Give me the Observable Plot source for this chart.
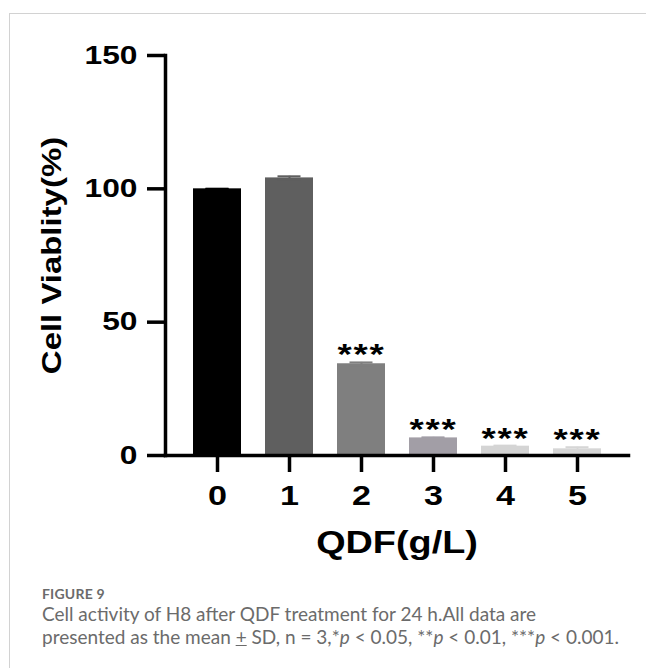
<!DOCTYPE html>
<html>
<head>
<meta charset="utf-8">
<script src="https://cdn.jsdelivr.net/npm/d3@7"></script>
<script src="https://cdn.jsdelivr.net/npm/@observablehq/plot@0.6"></script>
<style>
  html, body { margin: 0; padding: 0; background: #fff; }
  #wrap { position: relative; width: 646px; height: 668px; overflow: hidden; background: #fff; }
  #border { position: absolute; left: 9px; top: 13px; right: -2px; bottom: -2px;
            border-left: 1px solid #d2d2d2; border-top: 1px solid #d2d2d2; }
  #chart { position: absolute; left: 0; top: 0; }
  .figno { position: absolute; left: 42px; top: 587px; font-family: Lato, "Open Sans", sans-serif;
           font-size: 14px; line-height: 14px; font-weight: 700; color: #6b6b6b; letter-spacing: 0.2px; }
  .figtxt { position: absolute; left: 42px; top: 602px; font-family: Lato, "Open Sans", sans-serif;
            font-size: 19px; line-height: 23px; color: #6b6b6b; white-space: nowrap; }
</style>
</head>
<body>
<div id="wrap">
  <div id="border"></div>
  <div id="chart"></div>
  <div class="figno">FIGURE 9</div>
  <div class="figtxt">Cell activity of H8 after QDF treatment for 24 h.All data are<br>presented as the mean <u>+</u> SD, n = 3,*<i>p</i> &lt; 0.05, **<i>p</i> &lt; 0.01, ***<i>p</i> &lt; 0.001.</div>
</div>
<script>
// Data
const doses = ["0", "1", "2", "3", "4", "5"];
const viability = [100, 104.1, 34.4, 6.6, 3.5, 2.5];
const sdValues = [0, 0.6, 0.5, 0.2, 0.2, 0.6];
const significance = ["", "", "***", "***", "***", "***"];
const yTicks = [0, 50, 100, 150];
const barColors = ["#000000", "#5f5f5f", "#7f7f7f", "#a29ea6", "#d4d4d4", "#d6d6d6"];

const data = doses.map((d, i) => ({
  dose: d,
  v: viability[i],
  lo: viability[i] - sdValues[i],
  hi: viability[i] + sdValues[i],
  sig: significance[i]
}));

const font = '"Liberation Sans", Arial, Helvetica, sans-serif';

const chart = Plot.plot({
  width: 646,
  height: 575,
  marginLeft: 165,
  marginRight: 18,
  marginTop: 55,
  marginBottom: 120,
  style: { fontFamily: font, color: "#000", background: "transparent" },
  x: { domain: doses, paddingInner: 0.339, paddingOuter: 0.358, label: null },
  y: { domain: [0, 150], label: null },
  color: { domain: doses, range: barColors },
  marks: [
    Plot.barY(data, { x: "dose", y: "v", fill: "dose" }),
    Plot.ruleX(data, { x: "dose", y1: "lo", y2: "hi", stroke: "dose", strokeWidth: 2 }),
    Plot.tickY(data, { x: "dose", y: "hi", stroke: "dose", strokeWidth: 2, insetLeft: 12.5, insetRight: 12.5 }),
    Plot.tickY(data, { x: "dose", y: "lo", stroke: "dose", strokeWidth: 2, insetLeft: 12.5, insetRight: 12.5 }),
    Plot.text(data.filter(d => d.sig), { x: "dose", y: "hi", text: "sig", lineAnchor: "bottom", dy: 2, fontSize: 30, fill: "#000" }),
    Plot.frame({ anchor: "left", strokeWidth: 3.5, stroke: "#000" }),
    Plot.frame({ anchor: "bottom", strokeWidth: 3.5, stroke: "#000" }),
    Plot.axisY({ ticks: yTicks, tickSize: 18, tickPadding: 10, strokeWidth: 3.5, fontSize: 26, fontWeight: "bold", tickFormat: d => String(d) }),
    Plot.axisX({ tickSize: 17, tickPadding: 13, strokeWidth: 3.5, fontSize: 28, fontWeight: "bold" }),
    Plot.text(["Cell Viablity(%)"], { frameAnchor: "left", textAnchor: "middle", rotate: -90, dx: -113, fontSize: 27, fontWeight: "bold", fill: "#000" }),
    Plot.text(["QDF(g/L)"], { frameAnchor: "bottom", textAnchor: "middle", lineAnchor: "top", dy: 75, fontSize: 31, fontWeight: "bold", fill: "#000" })
  ]
});

// Original figure uses a wide sans: stretch glyphs along the text direction
const SX = 1.22;
chart.querySelectorAll("text").forEach(t => {
  const xa = t.getAttribute("x");
  const x = xa !== null && /^-?[\d.]+$/.test(xa.trim()) ? +xa : 0;
  const tr = t.getAttribute("transform") || "";
  t.setAttribute("transform", `${tr} translate(${x},0) scale(${SX},1) translate(${-x},0)`);
  t.setAttribute("font-weight", "bold");
  if (t.textContent.includes("*")) t.setAttribute("letter-spacing", "1.5");
});

document.getElementById("chart").appendChild(chart);
</script>
</body>
</html>
